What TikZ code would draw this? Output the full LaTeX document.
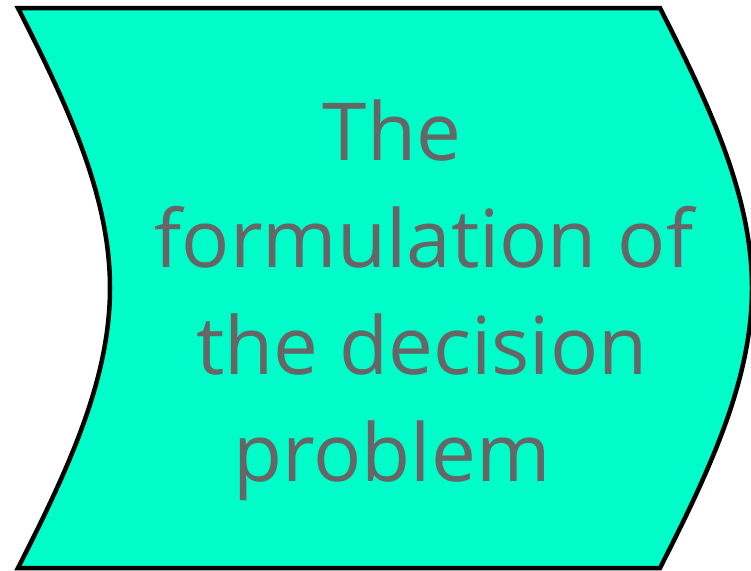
\documentclass[tikz,border=0pt]{standalone}
\usepackage{fontspec}
\setmainfont{Open Sans}
\definecolor{shapefill}{RGB}{0,252,200}
\definecolor{textgrey}{RGB}{102,102,102}
\begin{document}
\begin{tikzpicture}[x=1pt,y=-1pt,
  txt/.style={anchor=base, text=textgrey, inner sep=0pt, font=\fontsize{80}{96}\selectfont},
  shapeline/.style={draw=black, line width=4.5pt, fill=shapefill, line join=miter}]
\useasboundingbox (0,0) rectangle (751,570);
\clip (0,0) rectangle (751,570);
\path[shapeline]
 (18,8) -- (660,8)
 .. controls (712,110) and (752,198) .. (752,288)
 .. controls (752,378) and (712,466) .. (660,568)
 -- (18,568)
 .. controls (70,466) and (110,378) .. (110,288)
 .. controls (110,198) and (70,110) .. (18,8) -- cycle;
\node[txt] (l1) at (392,160) {The};
\node[txt] (l2) at (424,267) {formulation of};
\node[txt] (l3) at (422,374) {the decision};
\node[txt] (l4) at (392,481) {problem};
\end{tikzpicture}
\end{document}
